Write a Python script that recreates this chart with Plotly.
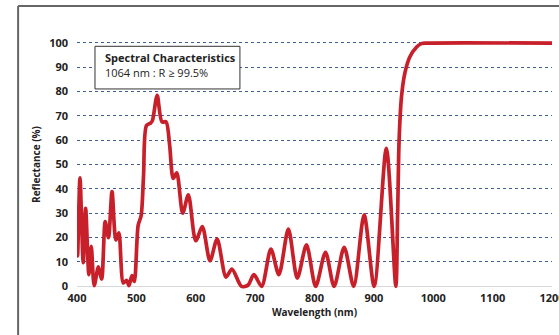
import plotly.graph_objects as go

wavelength = [400, 401, 405, 410.5, 414.5, 420, 424, 429, 436, 441.5, 447.5, 453, 459,
              465.5, 470.5, 478, 483.5, 487.5, 492.5, 496.5, 503, 508, 512, 517, 524, 527,
              535, 543, 550, 556, 562, 568, 578, 587.5, 600, 611, 624, 636, 651, 661, 677,
              688, 698, 711, 726.5, 740, 756, 771, 786.5, 802, 818.5, 833, 850, 866,
              883.5, 900.5, 921, 937, 940, 942.5, 946.5, 952, 960.5, 972, 980, 990, 1200]
reflectance = [28, 12.5, 44.5, 9.7, 32, 4.8, 16.4, 0.3, 8, 3, 26.6, 20, 38.9,
               19, 22, 1.4, 2.5, 0.3, 4.4, 2, 25, 29, 45, 66, 67, 68,
               78.4, 67.5, 67.5, 58, 44.3, 46.6, 30, 37.5, 18.7, 24.5, 10.5, 19.4, 3.8, 7.1, 0,
               0.5, 4.8, 0, 15.3, 4.8, 23.5, 3.4, 17, 0, 14, 0, 16, 0,
               29.3, 0, 56.6, 0, 30, 60, 77.7, 87.3, 94.1, 98.2, 99.6, 99.8, 99.8]

x_ticks = [400, 500, 600, 700, 800, 900, 1000, 1100, 1200]
y_ticks = [0, 10, 20, 30, 40, 50, 60, 70, 80, 90, 100]

title_text = "Spectral Characteristics"
spec_text = "1064 nm : R ≥ 99.5%"

FONT = "Open Sans"
TXT = "#222222"

fig = go.Figure()
fig.add_trace(go.Scatter(
    x=wavelength, y=reflectance, mode="lines",
    line=dict(color="#c8202a", width=3.7, shape="spline", smoothing=0.8),
    hoverinfo="skip", showlegend=False))

fig.update_layout(
    width=559, height=335,
    margin=dict(l=77, r=7, t=38.6, b=44.6),
    paper_bgcolor="white", plot_bgcolor="white",
    font=dict(family=FONT, color=TXT),
    xaxis=dict(range=[400, 1200], tickvals=x_ticks, ticktext=[str(v) for v in x_ticks],
               showgrid=False, zeroline=False, showline=False, ticks="",
               automargin=False, ticklabeloverflow="allow",
               tickfont=dict(family=FONT, size=11, color=TXT, weight="bold"),
               title=dict(text="<b>Wavelength (nm)</b>", font=dict(family=FONT, size=10, color=TXT), standoff=4)),
    yaxis=dict(range=[-1.5, 101.5], tickvals=y_ticks, ticktext=[str(v) for v in y_ticks],
               showgrid=True, gridcolor="#3d5f94", griddash="dot", gridwidth=1,
               zeroline=True, zerolinecolor="#d8d8d8", zerolinewidth=1.5,
               showline=False, ticks="", ticklabelstandoff=8, automargin=False,
               tickfont=dict(family=FONT, size=11, color=TXT, weight="bold"),
               title=dict(text="<b>Reflectance (%)</b>", font=dict(family=FONT, size=10, color=TXT), standoff=6)),
)

# outer frame: top and left edges
fig.add_shape(type="line", xref="paper", yref="paper",
              x0=-0.124, x1=1.02, y0=1.131, y1=1.131,
              line=dict(color="#666666", width=2), layer="above")
fig.add_shape(type="line", xref="paper", yref="paper",
              x0=-0.124, x1=-0.124, y0=-0.2, y1=1.131,
              line=dict(color="#666666", width=2), layer="above")
# white strip beyond the plot's right edge
fig.add_shape(type="rect", xref="paper", yref="paper",
              x0=1.008, x1=1.05, y0=0.0, y1=1.115,
              line=dict(width=0), fillcolor="white", layer="above")

# info box
fig.add_shape(type="rect", xref="x", yref="y", x0=430.3, x1=674.4, y0=81.0, y1=98.5,
              line=dict(color="#333333", width=1), fillcolor="white", layer="above")
fig.add_annotation(x=443.8, y=93.8, xref="x", yref="y", xanchor="left", yanchor="middle",
                   text="<b>" + title_text + "</b>", showarrow=False,
                   font=dict(family=FONT, size=11, color=TXT))
fig.add_annotation(x=443.8, y=87.8, xref="x", yref="y", xanchor="left", yanchor="middle",
                   text=spec_text, showarrow=False,
                   font=dict(family=FONT, size=11, color=TXT))

fig.write_html("out.html", config={"displayModeBar": False, "staticPlot": True},
               post_script="document.body.style.margin='0';document.body.style.overflow='hidden';"
                           "document.documentElement.style.overflow='hidden';")
